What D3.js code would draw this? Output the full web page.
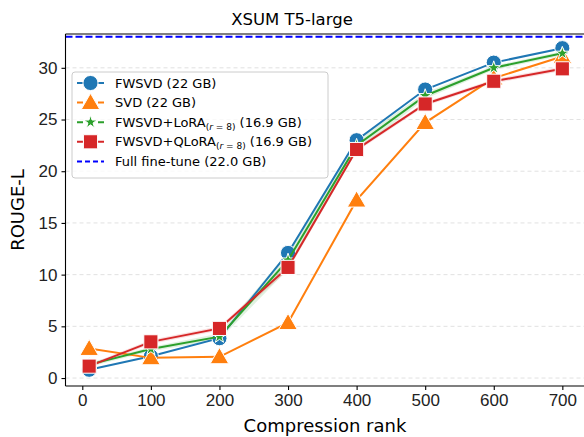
<!DOCTYPE html>
<meta charset="utf-8">
<style>
body { margin: 0; background: #fff; }
svg { font-family: "DejaVu Sans", sans-serif; }
.grid line { stroke: #d9d9d9; stroke-dasharray: 4,3; stroke-width: 0.8px; }
.axis text { font-size: 17px; fill: #222; }
.axis path, .axis line { stroke: #000; stroke-width: 1.1px; }
</style>
<svg width="584" height="437"></svg>
<script src="https://d3js.org/d3.v7.min.js"></script>
<script>

// data
var ranks = [10, 100, 200, 300, 400, 500, 600, 700];
var fwsvd = [0.8, 2.1, 3.85, 12.1, 23.0, 27.9, 30.5, 31.9];
var svd = [2.85, 1.95, 2.05, 5.35, 17.2, 24.7, 29.0, 31.1];
var fwsvdLora = [1.3, 2.8, 4.0, 11.4, 22.5, 27.3, 30.0, 31.4];
var fwsvdQlora = [1.15, 3.5, 4.8, 10.7, 22.1, 26.5, 28.7, 29.9];
// light confidence bands
var loraLow = [1.1, 2.6, 3.7, 10.5, 21.9, 27.0, 29.8, 31.2];
var loraHigh = [1.5, 3.0, 4.3, 12.2, 23.0, 27.6, 30.2, 31.6];
var qloraLow = [1.0, 3.3, 4.6, 10.4, 21.9, 26.3, 28.5, 29.7];
var qloraHigh = [1.3, 3.7, 5.0, 11.0, 22.3, 26.7, 28.9, 30.1];
var fullFineTune = 33.0;
var xTicks = [0, 100, 200, 300, 400, 500, 600, 700];
var yTicks = [0, 5, 10, 15, 20, 25, 30];

var svg = d3.select("svg");
var pl = 65.5, pr = 586, pt = 34, pb = 386;

var x = d3.scaleLinear().domain([-24.5, 734.5]).range([pl, pr]);
var y = d3.scaleLinear().domain([-0.77, 33.27]).range([pb, pt]);

// grid
svg.append("g").attr("class", "grid")
  .selectAll("line").data(yTicks).enter().append("line")
    .attr("x1", pl).attr("x2", pr)
    .attr("y1", function(d) { return y(d); })
    .attr("y2", function(d) { return y(d); });

var series = [
  {name: "FWSVD", vals: fwsvd, color: "#1f77b4", sym: d3.symbolCircle, size: 180},
  {name: "SVD", vals: svd, color: "#ff7f0e", sym: d3.symbolTriangle, size: 150},
  {name: "LoRA", vals: fwsvdLora, color: "#2ca02c", sym: d3.symbolStar, size: 55, lo: loraLow, hi: loraHigh},
  {name: "QLoRA", vals: fwsvdQlora, color: "#d62728", sym: d3.symbolSquare, size: 200, lo: qloraLow, hi: qloraHigh}
];

var line = d3.line()
  .x(function(d, i) { return x(ranks[i]); })
  .y(function(d) { return y(d); });

var area = d3.area()
  .x(function(d, i) { return x(ranks[i]); })
  .y0(function(d) { return y(d[0]); })
  .y1(function(d) { return y(d[1]); });

series.forEach(function(s) {
  if (s.lo) {
    svg.append("path")
      .datum(s.lo.map(function(v, i) { return [v, s.hi[i]]; }))
      .attr("d", area)
      .attr("fill", s.color)
      .attr("opacity", 0.15);
  }
});

series.forEach(function(s) {
  svg.append("path")
    .datum(s.vals)
    .attr("d", line)
    .attr("fill", "none")
    .attr("stroke", s.color)
    .attr("stroke-width", 2);

  svg.selectAll(null)
    .data(s.vals)
    .enter().append("path")
      .attr("d", d3.symbol().type(s.sym).size(s.size))
      .attr("transform", function(d, i) {
        var dy = s.sym === d3.symbolTriangle ? 1.5 : 0;
        return "translate(" + x(ranks[i]) + "," + (y(d) + dy) + ")";
      })
      .attr("fill", s.color)
      .attr("stroke", "#fff")
      .attr("stroke-width", 1);
});

// full fine-tune line
svg.append("line")
  .attr("x1", pl).attr("x2", pr)
  .attr("y1", y(fullFineTune)).attr("y2", y(fullFineTune))
  .attr("stroke", "#0000ff")
  .attr("stroke-width", 2)
  .attr("stroke-dasharray", "7,3");

// axes
svg.append("g").attr("class", "axis")
  .attr("transform", "translate(0," + pb + ")")
  .call(d3.axisBottom(x).tickValues(xTicks).tickSize(4).tickPadding(4).tickSizeOuter(0))
  .call(function(g) { g.select(".domain").remove(); });

svg.append("g").attr("class", "axis")
  .attr("transform", "translate(" + pl + ",0)")
  .call(d3.axisLeft(y).tickValues(yTicks).tickSize(4).tickPadding(4).tickSizeOuter(0))
  .call(function(g) { g.select(".domain").remove(); });

// spines
svg.append("line").attr("x1", pl).attr("x2", pl).attr("y1", pt).attr("y2", pb)
  .attr("stroke", "#000").attr("stroke-width", 1.1);
svg.append("line").attr("x1", pl).attr("x2", pr).attr("y1", pb).attr("y2", pb)
  .attr("stroke", "#000").attr("stroke-width", 1.1);
svg.append("line").attr("x1", pl).attr("x2", pr).attr("y1", pt).attr("y2", pt)
  .attr("stroke", "#000").attr("stroke-width", 1.1);

// titles
svg.append("text").attr("x", 292).attr("y", 25)
  .attr("text-anchor", "middle").attr("font-size", 16.5).text("XSUM T5-large");
svg.append("text").attr("x", 325).attr("y", 432)
  .attr("text-anchor", "middle").attr("font-size", 18).text("Compression rank");
svg.append("text")
  .attr("transform", "translate(24," + ((pt + pb) / 2) + ") rotate(-90)")
  .attr("text-anchor", "middle").attr("font-size", 18).text("ROUGE-L");

// legend
var lg = svg.append("g").attr("transform", "translate(72,72)");
lg.append("rect").attr("width", 256).attr("height", 106).attr("rx", 3)
  .attr("fill", "#fff").attr("fill-opacity", 0.8)
  .attr("stroke", "#ccc").attr("stroke-width", 1);

var labels = [
  ["FWSVD (22 GB)"],
  ["SVD (22 GB)"],
  ["FWSVD+LoRA", "(r = 8)", " (16.9 GB)"],
  ["FWSVD+QLoRA", "(r = 8)", " (16.9 GB)"],
  ["Full fine-tune (22.0 GB)"]
];

labels.forEach(function(lab, i) {
  var ry = 11 + i * 19.6;
  var row = lg.append("g").attr("transform", "translate(0," + ry + ")");
  if (i < 4) {
    var s = series[i];
    row.append("line").attr("x1", 5).attr("x2", 32).attr("y1", 0).attr("y2", 0)
      .attr("stroke", s.color).attr("stroke-width", 2).attr("stroke-dasharray", "6,15,6");
    row.append("path")
      .attr("d", d3.symbol().type(s.sym).size(s.size))
      .attr("transform", "translate(18.5," + (s.sym === d3.symbolTriangle ? 1.5 : 0) + ")")
      .attr("fill", s.color).attr("stroke", "#fff").attr("stroke-width", 1);
  } else {
    row.append("line").attr("x1", 5).attr("x2", 32).attr("y1", 0).attr("y2", 0)
      .attr("stroke", "#0000ff").attr("stroke-width", 2).attr("stroke-dasharray", "5,3");
  }
  var t = row.append("text").attr("x", 43).attr("y", 4.5).attr("font-size", 13);
  t.append("tspan").text(lab[0]);
  if (lab.length > 1) {
    var sub = t.append("tspan").attr("font-size", 9).attr("dy", 3);
    sub.append("tspan").text("(");
    sub.append("tspan").attr("font-style", "italic").text("r");
    sub.append("tspan").text(" = 8)");
    t.append("tspan").attr("dy", -3).text(lab[2]);
  }
});

</script>
